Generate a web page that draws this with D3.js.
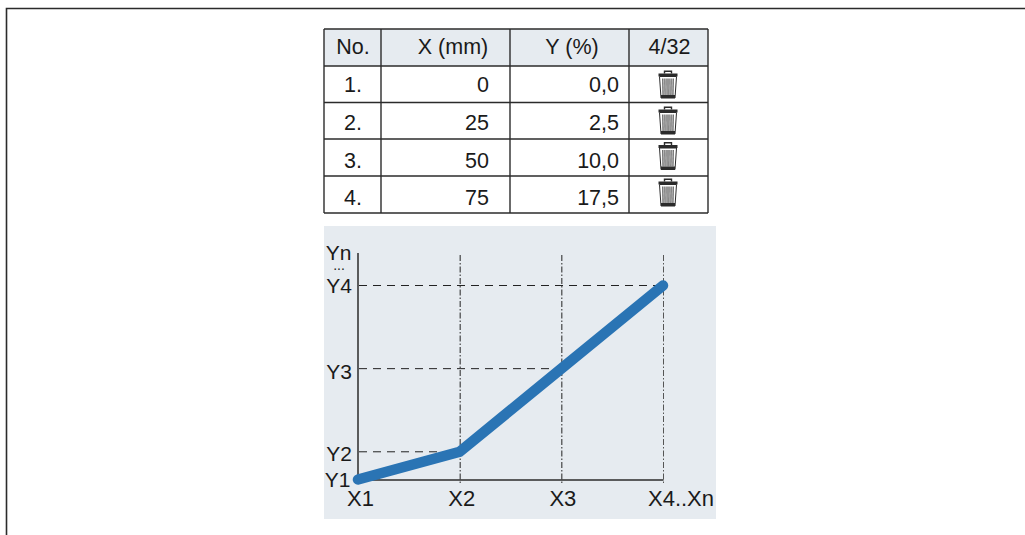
<!DOCTYPE html>
<html><head><meta charset="utf-8">
<script src="https://cdn.jsdelivr.net/npm/d3@7"></script>
<style>html,body{margin:0;padding:0;background:#fff}svg{display:block}text{font-family:"Liberation Sans",Arial,sans-serif;fill:#1a1a1a}</style>
</head><body><div id="c"></div>
<script>
const headers=["No.","X (mm)","Y (%)","4/32"];
const rowNumbers=["1.","2.","3.","4."];
const xValues=[0,25,50,75];
const yValues=[0,2.5,10,17.5];
const yLabelsText=["0,0","2,5","10,0","17,5"];
const xTickLabels=["X1","X2","X3","X4..Xn"];
const yTickLabels=["Y1","Y2","Y3","Y4"];

const W=1025,H=535,INK="#2b2b2b",PANEL="#e6ebf0",BLUE="#2a74b4",FS=21.5,AFS=22,YFS=21;
const svg=d3.select("#c").append("svg").attr("width",W).attr("height",H);

// outer frame
svg.append("path").attr("d",`M6.5,${H}V8.5H${W}`).attr("fill","none").attr("stroke",INK).attr("stroke-width",1.6);

// table
const colX=[324,381,510,629,708], rowY=[29,66,102.5,139,176,213];
const baselines=[92,130,168,204.5];
const rightX=[489,619];
svg.append("rect").attr("x",colX[0]).attr("y",rowY[0]).attr("width",colX[4]-colX[0]).attr("height",rowY[1]-rowY[0]).attr("fill",PANEL);
const tbl=svg.append("g").attr("stroke",INK).attr("stroke-width",1.4);
rowY.forEach(y=>tbl.append("line").attr("x1",colX[0]).attr("x2",colX[4]).attr("y1",y).attr("y2",y));
colX.forEach(x=>tbl.append("line").attr("x1",x).attr("x2",x).attr("y1",rowY[0]).attr("y2",rowY[5]));
const headCx=[353,453,572,669.5];
headers.forEach((h,i)=>svg.append("text").attr("x",headCx[i]).attr("y",54).attr("text-anchor","middle").attr("font-size",FS).text(h));
rowNumbers.forEach((t,i)=>{
  svg.append("text").attr("x",353).attr("y",baselines[i]).attr("text-anchor","middle").attr("font-size",FS).text(t);
  svg.append("text").attr("x",rightX[0]).attr("y",baselines[i]).attr("text-anchor","end").attr("font-size",FS).text(xValues[i]);
  svg.append("text").attr("x",rightX[1]).attr("y",baselines[i]).attr("text-anchor","end").attr("font-size",FS).text(yLabelsText[i]);
});
// trash icons
const iconY=[70.5,106.5,142,178.5];
iconY.forEach(y=>{
  const g=svg.append("g").attr("transform",`translate(668,${y})`);
  g.append("path").attr("d","M-3.5,3V0.7H3.5V3").attr("fill","none").attr("stroke",INK).attr("stroke-width",1.4);
  g.append("rect").attr("x",-9.5).attr("y",3).attr("width",19).attr("height",3).attr("fill",INK);
  g.append("path").attr("d","M-8.5,6H8.5L7,27.5H-7Z").attr("fill","#fff").attr("stroke",INK).attr("stroke-width",1);
  [-5.2,-3.1,-1,1,3.1,5.2].forEach(dx=>g.append("line").attr("x1",dx).attr("x2",dx*0.95).attr("y1",8).attr("y2",24.5).attr("stroke","#444").attr("stroke-width",1.1));
  g.append("rect").attr("x",-7).attr("y",24.5).attr("width",14).attr("height",3).attr("fill",INK);
});

// chart
svg.append("rect").attr("x",324).attr("y",226).attr("width",392).attr("height",293).attr("fill",PANEL);
const x=d3.scaleLinear().domain([0,75]).range([358,663]);
const y=d3.scaleLinear().domain([0,17.5]).range([479.5,285.5]);
const yTop=253;

// gridlines
xValues.slice(1).forEach((v,i)=>svg.append("line").attr("x1",x(v)+0.5).attr("x2",x(v)+0.5).attr("y1",255).attr("y2",483)
  .attr("stroke",i==2?"#555":"#222").attr("stroke-width",1).attr("stroke-dasharray","6,2,1.5,2"));
yValues.slice(1).forEach((v,i)=>svg.append("line").attr("x1",359).attr("x2",x(xValues[i+1])).attr("y1",y(v)).attr("y2",y(v))
  .attr("stroke","#222").attr("stroke-width",1).attr("stroke-dasharray","8,6"));

// axes
const axB=svg.append("g").attr("transform",`translate(0,${y(0)})`).call(d3.axisBottom(x).tickValues(xValues).tickSize(0).tickPadding(0).tickFormat((d,i)=>xTickLabels[i]));
const axL=svg.append("g").attr("transform",`translate(${x(0)},0)`).call(d3.axisLeft(y).tickValues(yValues).tickSize(0).tickPadding(0).tickFormat((d,i)=>yTickLabels[i]));
svg.append("line").attr("x1",x(0)).attr("x2",x(0)).attr("y1",yTop).attr("y2",y(0)).attr("stroke",INK).attr("stroke-width",1.5);
axB.select(".domain").attr("stroke",INK).attr("stroke-width",1.5);
axL.select(".domain").remove();
const xShift=[2,1.5,1,17.5];
axB.selectAll("text").attr("font-size",AFS).attr("font-family",null).attr("fill",null).attr("dy",null)
  .each(function(d,i){d3.select(this).attr("x",xShift[i]).attr("y",26.5)});
const yBase=[486.7,460.7,378,292.6];
axL.selectAll("text").attr("font-size",YFS).attr("font-family",null).attr("fill",null).attr("dy",null)
  .each(function(d,i){d3.select(this).attr("text-anchor","end").attr("x",i==0?-7.5:-6).attr("y",yBase[i]-y(d))});
axL.selectAll("g.tick").selectAll("line").remove();
svg.append("text").attr("x",351.5).attr("y",260).attr("text-anchor","end").attr("font-size",YFS).text("Yn");
svg.append("text").attr("x",339).attr("y",269.5).attr("text-anchor","middle").attr("font-size",14).text("...");

// data line
svg.append("path").datum(d3.zip(xValues,yValues)).attr("fill","none").attr("stroke",BLUE).attr("stroke-width",10.5)
  .attr("stroke-linecap","round").attr("stroke-linejoin","miter")
  .attr("d",d3.line().x(d=>x(d[0])).y(d=>y(d[1])));
</script></body></html>
